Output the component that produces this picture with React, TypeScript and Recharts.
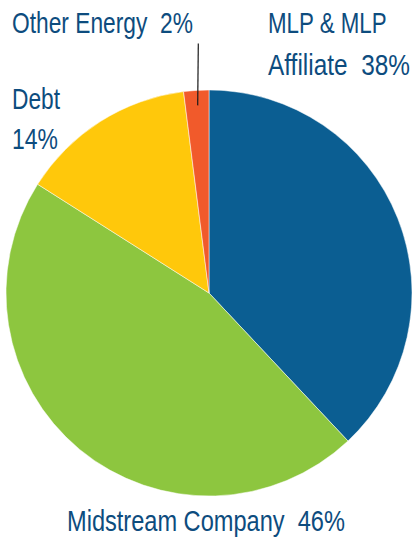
import { PieChart, Pie, Cell } from 'recharts';

const names = ['MLP & MLP Affiliate', 'Midstream Company', 'Debt', 'Other Energy'];
const values = [38, 46, 14, 2];
const colors = ['#0b5e92', '#8dc63f', '#ffc80b', '#f15a2b'];

const data = names.map((name, i) => ({ name, value: values[i] }));

const TEXT = '#0d4c7e';
const FONT_SIZE = 29;
const FONT = '"Liberation Sans", Arial, sans-serif';
const RAD = Math.PI / 180;

// label lines per slice: position and squeezed width (condensed look)
const labelLines: { x: number; y: number; w: number; text: string }[][] = [
  [
    { x: 268, y: 33, w: 119, text: 'MLP & MLP' },
    { x: 268, y: 75, w: 142, text: 'Affiliate  38%' },
  ],
  [{ x: 67, y: 531, w: 278, text: 'Midstream Company  46%' }],
  [
    { x: 12, y: 109, w: 48, text: 'Debt' },
    { x: 12, y: 149, w: 46, text: '14%' },
  ],
  [{ x: 12, y: 33, w: 181, text: 'Other Energy  2%' }],
];

let ctx: CanvasRenderingContext2D | null = null;
const measure = (s: string) => {
  if (!ctx) ctx = document.createElement('canvas').getContext('2d');
  if (!ctx) return s.length * FONT_SIZE * 0.55;
  ctx.font = `${FONT_SIZE}px ${FONT}`;
  return ctx.measureText(s).width;
};

const renderLabel = (props: any) => {
  const { index, cx, cy, midAngle } = props;
  const lines = labelLines[index];
  let leader = null;
  if (index === 3) {
    const a = -midAngle * RAD;
    leader = (
      <line
        x1={cx + 188 * Math.cos(a) + 0.5}
        y1={cy + 188 * Math.sin(a)}
        x2={cx + 250 * Math.cos(a) + 5}
        y2={cy + 250 * Math.sin(a)}
        stroke="#1a1a1a"
        strokeWidth={1.2}
      />
    );
  }
  return (
    <g>
      {leader}
      {lines.map((l, i) => {
        const sx = l.w / measure(l.text);
        return (
          <text
            key={i}
            x={0}
            y={0}
            transform={`translate(${l.x},${l.y}) scale(${sx},1)`}
            fill={TEXT}
            fontSize={FONT_SIZE}
            fontFamily={FONT}
            style={{ whiteSpace: 'pre' }}
          >
            {l.text}
          </text>
        );
      })}
    </g>
  );
};

export default function App() {
  return (
    <div style={{ position: 'absolute', left: 0, top: 0, width: 414, height: 541, background: '#fff' }}>
      <PieChart width={414} height={541} margin={{ top: 0, right: 0, bottom: 0, left: 0 }}>
        <Pie
          data={data}
          dataKey="value"
          nameKey="name"
          cx={209}
          cy={293}
          outerRadius={203}
          startAngle={90}
          endAngle={-270}
          stroke="#ffffff"
          strokeWidth={0.5}
          label={renderLabel}
          labelLine={false}
          isAnimationActive={false}
        >
          {data.map((d, i) => (
            <Cell key={d.name} fill={colors[i]} />
          ))}
        </Pie>
      </PieChart>
    </div>
  );
}
